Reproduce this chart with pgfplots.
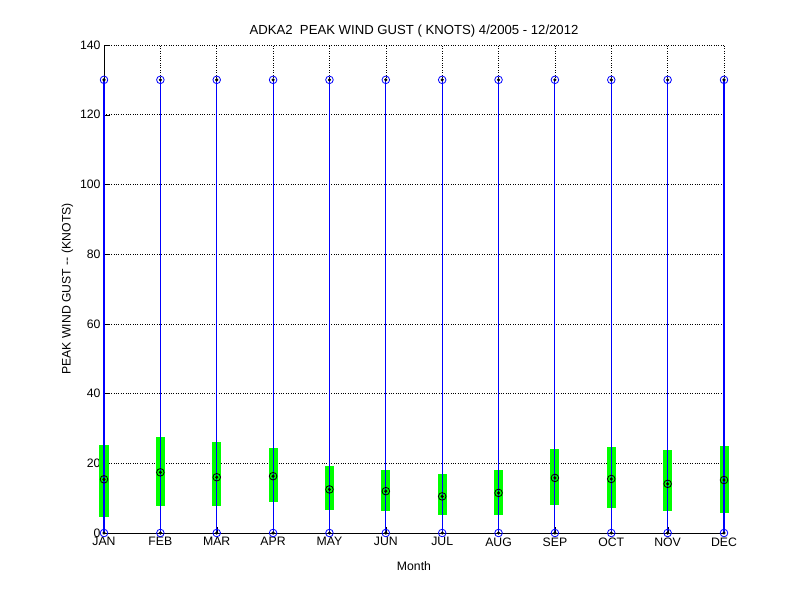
\documentclass[border=0pt]{standalone}
\usepackage{fontspec}
\setmainfont{Liberation Sans}
\usepackage{pgfplots}
\usepackage{pgfplotstable}
\pgfplotsset{compat=1.18}
\definecolor{mblue}{rgb}{0,0,1}
\definecolor{mgreen}{rgb}{0,1,0}

% month, green bar low/high, mean, min, max
\pgfplotstableread{
m lo hi mean mn mx
1 4.7 25.2 15.4 0 130
2 7.8 27.5 17.4 0 130
3 7.8 26.1 16.0 0 130
4 9.0 24.4 16.3 0 130
5 6.7 19.2 12.5 0 130
6 6.4 18.1 12.0 0 130
7 5.3 16.9 10.5 0 130
8 5.3 18.1 11.5 0 130
9 8.1 24.1 15.8 0 130
10 7.3 24.7 15.5 0 130
11 6.4 23.8 14.1 0 130
12 5.8 25.0 15.2 0 130
}\gust

\begin{document}
\begin{tikzpicture}
\path (0bp,0bp) rectangle (800bp,600bp);
\begin{axis}[
  at={(104bp,67bp)}, anchor=south west,
  scale only axis, width=620bp, height=488bp,
  xmin=1, xmax=12, ymin=0, ymax=140,
  xtick={1,...,12},
  xticklabels={JAN,FEB,MAR,APR,MAY,JUN,JUL,AUG,SEP,OCT,NOV,DEC},
  ytick={0,20,...,140},
  axis x line*=bottom, axis y line*=left,
  axis line style={-, black},
  ymajorgrids=true, grid style={dotted, black, line width=0.6bp},
  tick align=inside, major tick length=6bp,
  tick style={black},
  /pgf/number format/assume math mode=true,
  ticklabel style={font=\fontsize{12.3}{14}\selectfont},
  xticklabel style={yshift=-1bp},
  title={ADKA2\ \ PEAK WIND GUST ( KNOTS) 4/2005 - 12/2012},
  title style={font=\fontsize{13.2}{15}\selectfont, at={(0.5,1)}, anchor=south, yshift=-2bp},
  xlabel={Month},
  ylabel={PEAK WIND GUST -{}- (KNOTS)},
  label style={font=\fontsize{12.3}{14}\selectfont},
  xlabel style={yshift=-9bp},
  clip=false,
]
% vertical grid above the whiskers
\addplot[draw=none, no markers, forget plot,
  error bars/.cd, y dir=plus, y fixed=10, error mark=none,
  error bar style={draw=black, dotted, line width=0.6bp}]
  table[x=m, y=mx] {\gust};
% green bars (low to high)
\addplot[draw=none, no markers, forget plot,
  error bars/.cd, y dir=plus, y explicit, error mark=none,
  error bar style={draw=mgreen, solid, line width=9bp}]
  table[x=m, y=lo, y error expr=\thisrow{hi}-\thisrow{lo}] {\gust};
% blue whiskers (min to max)
\addplot[draw=none, no markers, forget plot,
  error bars/.cd, y dir=plus, y explicit, error mark=none,
  error bar style={draw=mblue, solid, line width=1.1bp}]
  table[x=m, y=mn, y error expr=\thisrow{mx}-\thisrow{mn}] {\gust};
\addplot[only marks, mark=o, mblue, mark size=3.8bp, line width=0.8bp] table[x=m, y=mx] {\gust};
\addplot[only marks, mark=o, mblue, mark size=3.8bp, line width=0.8bp] table[x=m, y=mn] {\gust};
\addplot[only marks, mark=*, black, mark size=1.4bp] table[x=m, y=mx] {\gust};
\addplot[only marks, mark=*, black, mark size=1.4bp] table[x=m, y=mn] {\gust};
\addplot[only marks, mark=o, black, mark size=3.8bp, line width=0.8bp] table[x=m, y=mean] {\gust};
\addplot[only marks, mark=*, black, mark size=1.4bp] table[x=m, y=mean] {\gust};
\end{axis}
\end{tikzpicture}
\end{document}
